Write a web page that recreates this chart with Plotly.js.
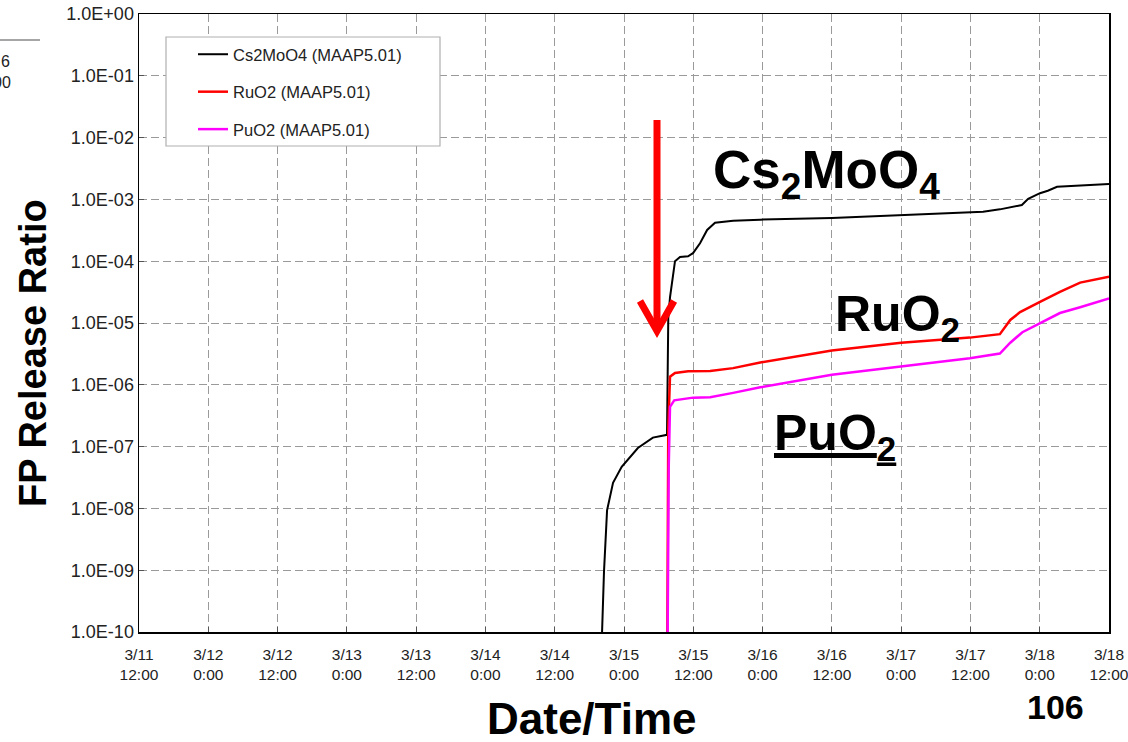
<!DOCTYPE html>
<html>
<head>
<meta charset="utf-8">
<script src="https://cdn.plot.ly/plotly-3.0.1.min.js"></script>
<style>html,body{margin:0;padding:0;background:#fff;}#chart{width:1128px;height:742px;}</style>
</head>
<body>
<div id="chart"></div>
<script>
// ---- data ----
const csTime = ['2011-03-14 20:00','2011-03-14 20:12','2011-03-14 20:32','2011-03-14 21:04','2011-03-14 22:06','2011-03-14 23:36',
  '2011-03-15 02:24','2011-03-15 05:00','2011-03-15 07:27','2011-03-15 07:32','2011-03-15 07:40','2011-03-15 07:58','2011-03-15 08:50',
  '2011-03-15 09:42','2011-03-15 11:06','2011-03-15 11:57','2011-03-15 13:10','2011-03-15 14:24','2011-03-15 15:46','2011-03-15 18:54',
  '2011-03-15 23:36','2011-03-16 12:00','2011-03-17 00:00','2011-03-17 10:12','2011-03-17 14:12','2011-03-17 17:06','2011-03-17 20:54',
  '2011-03-17 22:00','2011-03-18 00:03','2011-03-18 01:24','2011-03-18 03:00','2011-03-18 12:00'];
const csValue = [1e-11,1.0e-10,9.3e-10,9.3e-9,2.6e-8,4.7e-8,
  9.5e-8,1.4e-7,1.55e-7,2.0e-6,1.2e-5,2.6e-5,1.0e-4,
  1.17e-4,1.2e-4,1.35e-4,1.95e-4,3.2e-4,4.2e-4,4.5e-4,
  4.7e-4,5.0e-4,5.6e-4,6.0e-4,6.3e-4,6.9e-4,8.1e-4,
  1.02e-3,1.26e-3,1.38e-3,1.6e-3,1.78e-3];

const ruTime = ['2011-03-15 07:25','2011-03-15 07:40','2011-03-15 07:58','2011-03-15 08:50','2011-03-15 11:06','2011-03-15 14:55',
  '2011-03-15 18:54','2011-03-15 23:36','2011-03-16 12:00','2011-03-17 00:00','2011-03-17 11:54','2011-03-17 17:06','2011-03-17 18:54',
  '2011-03-17 20:36','2011-03-18 00:03','2011-03-18 03:30','2011-03-18 07:00','2011-03-18 12:00'];
const ruValue = [1e-12,2e-7,1.35e-6,1.55e-6,1.66e-6,1.68e-6,
  1.86e-6,2.3e-6,3.6e-6,4.8e-6,5.8e-6,6.6e-6,1.12e-5,
  1.5e-5,2.2e-5,3.2e-5,4.5e-5,5.6e-5];

const puTime = ['2011-03-15 07:25','2011-03-15 07:45','2011-03-15 07:58','2011-03-15 08:42','2011-03-15 11:57','2011-03-15 14:55',
  '2011-03-15 18:54','2011-03-15 23:36','2011-03-16 12:00','2011-03-17 00:00','2011-03-17 11:54','2011-03-17 17:06','2011-03-17 18:54',
  '2011-03-17 21:00','2011-03-18 00:03','2011-03-18 03:30','2011-03-18 07:00','2011-03-18 12:00'];
const puValue = [1e-12,5e-8,4.4e-7,5.6e-7,6.2e-7,6.3e-7,
  7.4e-7,9.1e-7,1.45e-6,2.0e-6,2.7e-6,3.2e-6,4.8e-6,
  7.1e-6,1.0e-5,1.45e-5,1.8e-5,2.5e-5];

const seriesNames = ['Cs2MoO4 (MAAP5.01)','RuO2 (MAAP5.01)','PuO2 (MAAP5.01)'];

const xTickVals = ['2011-03-11 12:00','2011-03-12 00:00','2011-03-12 12:00','2011-03-13 00:00','2011-03-13 12:00',
  '2011-03-14 00:00','2011-03-14 12:00','2011-03-15 00:00','2011-03-15 12:00','2011-03-16 00:00','2011-03-16 12:00',
  '2011-03-17 00:00','2011-03-17 12:00','2011-03-18 00:00','2011-03-18 12:00'];
const xTickText = ['3/11<br>12:00','3/12<br>0:00','3/12<br>12:00','3/13<br>0:00','3/13<br>12:00',
  '3/14<br>0:00','3/14<br>12:00','3/15<br>0:00','3/15<br>12:00','3/16<br>0:00','3/16<br>12:00',
  '3/17<br>0:00','3/17<br>12:00','3/18<br>0:00','3/18<br>12:00'];
const yTickVals = [1e-10,1e-9,1e-8,1e-7,1e-6,1e-5,1e-4,1e-3,1e-2,1e-1,1];
const yTickText = ['1.0E-10','1.0E-09','1.0E-08','1.0E-07','1.0E-06','1.0E-05','1.0E-04','1.0E-03','1.0E-02','1.0E-01','1.0E+00'];

// ---- layout helpers (pixel -> paper) ----
const L = 139, R = 1109, T = 14, B = 632;
const px = x => (x - L) / (R - L);
const py = y => (B - y) / (B - T);
const SANS = 'Liberation Sans, Arial, sans-serif';

const traces = [
  {x: csTime, y: csValue, name: seriesNames[0], legendgroup: 'a', mode: 'lines', line: {color: '#000000', width: 2}},
  {x: ruTime, y: ruValue, name: seriesNames[1], legendgroup: 'b', mode: 'lines', line: {color: '#ff0000', width: 2.5}},
  {x: puTime, y: puValue, name: seriesNames[2], legendgroup: 'c', mode: 'lines', line: {color: '#ff00ff', width: 2.5}}
];

const gridStyle = {gridcolor: '#9a9a9a', gridwidth: 1, griddash: '8px,4px'};

const layout = {
  width: 1128, height: 742,
  margin: {l: L, r: 1128 - R, t: T, b: 742 - B},
  paper_bgcolor: '#ffffff', plot_bgcolor: '#ffffff',
  font: {family: SANS, size: 16, color: '#222'},
  showlegend: true,
  legend: {x: px(193), y: py(37), xanchor: 'left', yanchor: 'top', bgcolor: 'rgba(0,0,0,0)', borderwidth: 0,
    font: {family: SANS, size: 16.5, color: '#222'}, tracegroupgap: 13, traceorder: 'grouped'},
  xaxis: Object.assign({
    type: 'date', range: ['2011-03-11 12:00', '2011-03-18 12:00'],
    tickmode: 'array', tickvals: xTickVals, ticktext: xTickText,
    showline: true, linecolor: '#000', linewidth: 1.5, mirror: true,
    ticks: 'inside', ticklen: 5, tickcolor: '#555', ticklabelstandoff: 8, ticklabeloverflow: 'allow',
    tickfont: {family: SANS, size: 15.5, color: '#222'}, zeroline: false
  }, gridStyle),
  yaxis: Object.assign({
    type: 'log', range: [-10, 0],
    tickmode: 'array', tickvals: yTickVals, ticktext: yTickText,
    showline: true, linecolor: '#000', linewidth: 1.5, mirror: true,
    ticks: 'inside', ticklen: 5, tickcolor: '#555',
    tickfont: {family: SANS, size: 18, color: '#222'}, zeroline: false
  }, gridStyle),
  shapes: [
    // legend frame
    {type: 'rect', xref: 'paper', yref: 'paper', x0: px(166), x1: px(440), y0: py(146), y1: py(37),
      line: {color: '#b0b0b0', width: 1.2}, fillcolor: '#ffffff', layer: 'above'},
    // red arrow shaft
    {type: 'line', xref: 'paper', yref: 'paper', x0: px(657), x1: px(657), y0: py(120), y1: py(326),
      line: {color: '#ff0000', width: 7}, layer: 'above'},
    // red arrow head (open chevron)
    {type: 'path', xref: 'paper', yref: 'paper',
      path: 'M ' + px(640) + ' ' + py(301) + ' L ' + px(657) + ' ' + py(331) + ' L ' + px(674) + ' ' + py(301),
      line: {color: '#ff0000', width: 7}, layer: 'above'},
    // cut-off fragment at top-left
    {type: 'line', xref: 'paper', yref: 'paper', x0: px(0), x1: px(40), y0: py(40), y1: py(40),
      line: {color: '#888', width: 1.5}}
  ],
  annotations: [
    {text: '<b>Cs<sub>2</sub>MoO<sub>4</sub></b>', xref: 'paper', yref: 'paper', x: px(826), y: py(173),
      xanchor: 'center', yanchor: 'middle', showarrow: false, font: {family: SANS, size: 53, color: '#000'}},
    {text: '<b>RuO<sub>2</sub></b>', xref: 'paper', yref: 'paper', x: px(897), y: py(317),
      xanchor: 'center', yanchor: 'middle', showarrow: false, font: {family: SANS, size: 50, color: '#000'}},
    {text: '<b><u>PuO<sub>2</sub></u></b>', xref: 'paper', yref: 'paper', x: px(835), y: py(436),
      xanchor: 'center', yanchor: 'middle', showarrow: false, font: {family: SANS, size: 50, color: '#000'}},
    {text: '<b>Date/Time</b>', xref: 'paper', yref: 'paper', x: px(592), y: py(718),
      xanchor: 'center', yanchor: 'middle', showarrow: false, font: {family: SANS, size: 44, color: '#000'}},
    {text: '<b>FP Release Ratio</b>', xref: 'paper', yref: 'paper', x: px(33), y: py(353), textangle: -90,
      xanchor: 'center', yanchor: 'middle', showarrow: false, font: {family: SANS, size: 38, color: '#000'}},
    {text: '<b>106</b>', xref: 'paper', yref: 'paper', x: px(1055), y: py(707),
      xanchor: 'center', yanchor: 'middle', showarrow: false, font: {family: SANS, size: 34, color: '#000'}},
    {text: '6', xref: 'paper', yref: 'paper', x: px(12), y: py(62),
      xanchor: 'right', yanchor: 'middle', showarrow: false, font: {family: SANS, size: 16, color: '#222'}},
    {text: '00', xref: 'paper', yref: 'paper', x: px(13), y: py(83),
      xanchor: 'right', yanchor: 'middle', showarrow: false, font: {family: SANS, size: 16, color: '#222'}}
  ]
};

Plotly.newPlot('chart', traces, layout, {displayModeBar: false, staticPlot: true});
</script>
</body>
</html>
